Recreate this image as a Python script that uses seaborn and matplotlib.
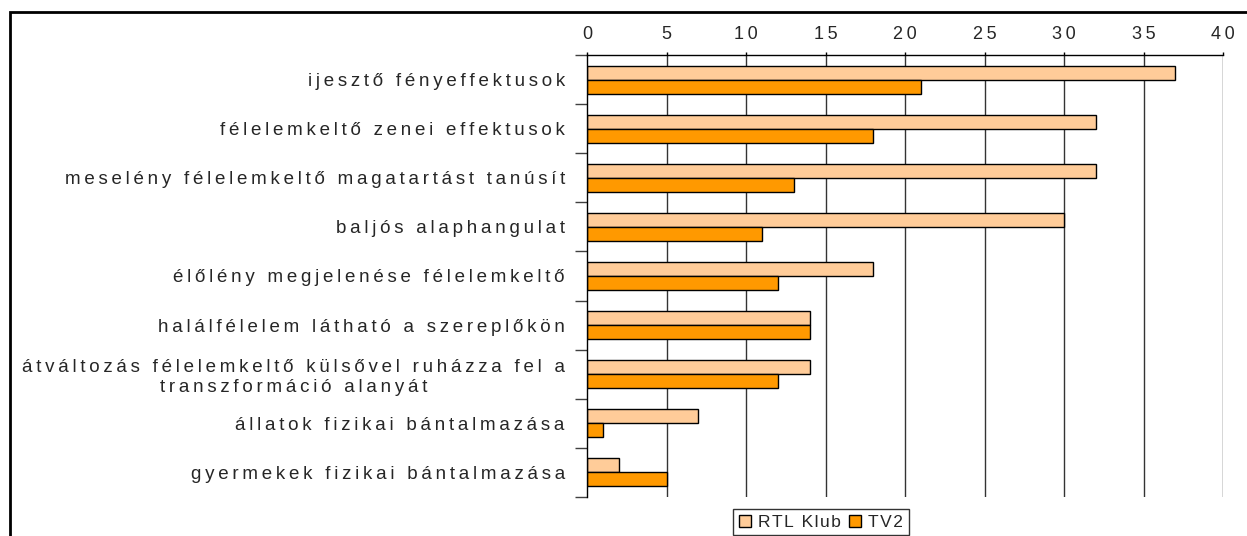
import matplotlib
matplotlib.use("Agg")
import matplotlib.pyplot as plt
from matplotlib.patches import Rectangle
import seaborn as sns
import pandas as pd
import numpy as np

categories = [
    "ijesztő fényeffektusok",
    "félelemkeltő zenei effektusok",
    "meselény félelemkeltő magatartást tanúsít",
    "baljós alaphangulat",
    "élőlény megjelenése félelemkeltő",
    "halálfélelem látható a szereplőkön",
    "átváltozás félelemkeltő külsővel ruházza fel a\ntranszformáció alanyát",
    "állatok fizikai bántalmazása",
    "gyermekek fizikai bántalmazása",
]
rtl_klub = [37, 32, 32, 30, 18, 14, 14, 7, 2]
tv2 = [21, 18, 13, 11, 12, 14, 12, 1, 5]
series = ["RTL Klub", "TV2"]
colors = ["#FFCC99", "#FF9900"]
x_ticks = [0, 5, 10, 15, 20, 25, 30, 35, 40]


# the original export has very loose letter spacing; fake it with narrow spaces
def spaced(s, gap="\u2009"):
    return "\n".join(gap.join(line) for line in s.split("\n"))


df = pd.DataFrame({
    "kategoria": categories * 2,
    "ertek": rtl_klub + tv2,
    "csatorna": [series[0]] * len(categories) + [series[1]] * len(categories),
})

sns.set_style("white")
plt.rcParams["font.family"] = ["Liberation Sans", "DejaVu Sans"]

fig = plt.figure(figsize=(12.47, 5.36), dpi=100)
ax = fig.add_axes([587 / 1247, 1 - 497 / 536, (1223 - 587) / 1247, (497 - 55) / 536])

sns.barplot(data=df, y="kategoria", x="ertek", hue="csatorna", orient="h",
            palette=colors, width=0.57, gap=0, edgecolor="black", linewidth=1,
            saturation=1, ax=ax, legend=True)

ax.set_xlim(0, 40)
ax.set_ylim(len(categories) - 0.5, -0.5)
ax.set_xticks(x_ticks)
ax.set_xticklabels([spaced(str(t)) for t in x_ticks])
ax.xaxis.tick_top()
ax.tick_params(axis="x", top=True, direction="out", length=2.5, width=1, color="black",
               labelsize=13, pad=6)
ax.set_xlabel("")
ax.set_ylabel("")

ax.set_yticks(np.arange(len(categories)))
ax.set_yticklabels([spaced(c) for c in categories], fontsize=13.5, linespacing=1.2,
                   multialignment="center")
ax.set_yticks(np.arange(len(categories) + 1) - 0.5, minor=True)
ax.tick_params(axis="y", which="major", length=0, pad=16)
ax.tick_params(axis="y", which="minor", left=True, length=9, width=1, color="#404040")

for gx in x_ticks[1:]:
    ax.axvline(gx, color="#333333", lw=1, zorder=0)

for s in ["right", "bottom"]:
    ax.spines[s].set_visible(False)
for s in ["left", "top"]:
    ax.spines[s].set_color("black")
    ax.spines[s].set_linewidth(1)

handles, labels = ax.get_legend_handles_labels()
leg = ax.legend(handles, [spaced(l, "\u200a") for l in labels], loc="upper center",
                bbox_to_anchor=((821 - 587) / 636, -0.028), ncol=2,
                frameon=True, fancybox=False, edgecolor="black", fontsize=12.5,
                handlelength=0.7, handleheight=0.7, handletextpad=0.4,
                columnspacing=0.5, borderpad=0.3, borderaxespad=0)
leg.get_frame().set_linewidth(1)

fig.patches.append(Rectangle((10 / 1247, -0.1), 1.2, 1.1 - 12 / 536,
                             transform=fig.transFigure, fill=False,
                             edgecolor="black", lw=2))

fig.savefig("out.png", dpi=100)
